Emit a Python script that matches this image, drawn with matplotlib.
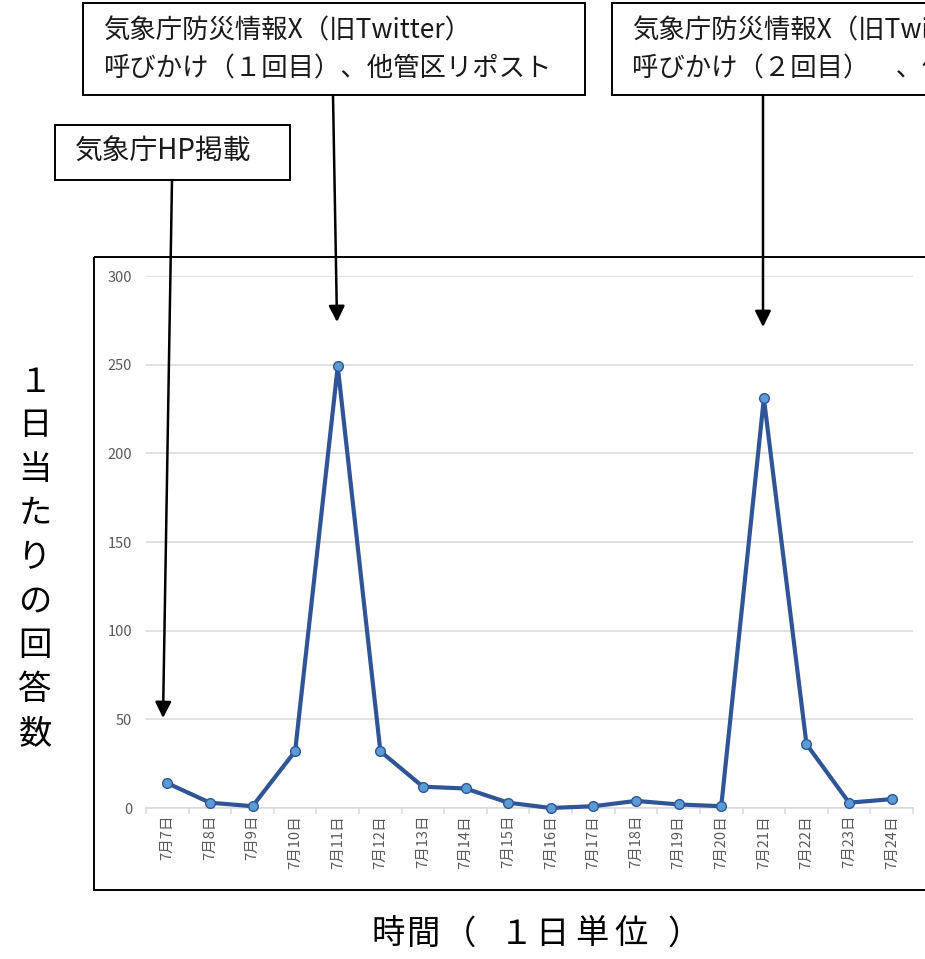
import matplotlib.pyplot as plt
from matplotlib.patches import Rectangle, FancyArrowPatch

plt.rcParams["font.family"] = ["Noto Sans CJK JP", "DejaVu Sans"]

# daily responses, 7/7 - 7/24
dates = ["7月7日", "7月8日", "7月9日", "7月10日", "7月11日", "7月12日",
         "7月13日", "7月14日", "7月15日", "7月16日", "7月17日", "7月18日",
         "7月19日", "7月20日", "7月21日", "7月22日", "7月23日", "7月24日"]
counts = [14, 3, 1, 32, 249, 32, 12, 11, 3, 0, 1, 4, 2, 1, 231, 36, 3, 5]
yticks = [0, 50, 100, 150, 200, 250, 300]

W, H = 925, 959
fig = plt.figure(figsize=(W / 100, H / 100), dpi=100)


def px(x0, y0, x1, y1):
    # pixel box (top-left origin) -> figure fraction rect
    return [x0 / W, 1 - y1 / H, (x1 - x0) / W, (y1 - y0) / H]


ax = fig.add_axes(px(146, 276, 913, 808))
x = list(range(len(dates)))
ax.plot(x, counts, color="#2F5597", linewidth=3, marker="o", markersize=7,
        markerfacecolor="#5B9BD5", markeredgecolor="#2F5597",
        markeredgewidth=1.0, zorder=3, clip_on=False)
ax.set_xlim(-0.5, len(dates) - 0.5)
ax.set_ylim(0, 300)
ax.set_yticks(yticks)
ax.set_xticks(x)
ax.set_xticklabels(dates, rotation=90, fontsize=10.5, color="#595959")
ax.tick_params(axis="x", length=0, pad=5)
ax.tick_params(axis="y", length=0, labelsize=10.5, labelcolor="#595959", pad=10)
ax.grid(axis="y", color="#D9D9D9", linewidth=1.1)
ax.set_axisbelow(True)
for side in ["top", "right", "left"]:
    ax.spines[side].set_visible(False)
ax.spines["bottom"].set_color("#D9D9D9")
ax.spines["bottom"].set_linewidth(1.1)
# category boundary ticks
for b in [i - 0.5 for i in range(len(dates) + 1)]:
    ax.plot([b, b], [0, -3], color="#D9D9D9", linewidth=1.1, clip_on=False)

# overlay in pixel coordinates for frame, callouts and axis titles
ov = fig.add_axes([0, 0, 1, 1], zorder=5)
ov.set_xlim(0, W)
ov.set_ylim(H, 0)
ov.axis("off")
ov.patch.set_alpha(0)

ov.add_patch(Rectangle((94, 257), 900, 633, fill=False, edgecolor="black",
                       linewidth=1.4))


def callout(x0, y0, x1, y1, lines, ys, fs=19):
    ov.add_patch(Rectangle((x0, y0), x1 - x0, y1 - y0, facecolor="white",
                           edgecolor="black", linewidth=1.4))
    for s, y in zip(lines, ys):
        ov.text(x0 + 20, y, s, fontsize=fs, ha="left", va="center",
                color="#1a1a1a")


def arrow(x0, y0, x1, y1):
    ov.add_patch(FancyArrowPatch((x0, y0), (x1, y1), arrowstyle="-|>",
                                 mutation_scale=24, linewidth=1.8,
                                 color="black", shrinkA=0, shrinkB=0))


callout(55, 125, 290, 180, ["気象庁HP掲載"], [152], fs=20)
callout(83, 3, 585, 95, ["気象庁防災情報X（旧Twitter）",
                         "呼びかけ（１回目）、他管区リポスト"], [31, 69])
callout(612, 3, 1120, 95, ["気象庁防災情報X（旧Twitter）",
                           "呼びかけ（２回目）　、他管区リポスト"], [31, 69])

arrow(172, 180, 163, 718)
arrow(333, 95, 337, 322)
arrow(763, 95, 763, 327)

ylabel = "１日当たりの回答数"
for i, ch in enumerate(ylabel):
    ov.text(35, 382 + 43.9 * i, ch, fontsize=24, ha="center", va="center")

xlabel = "時間（１日単位）"
xlabel_pos = [388, 424, 460, 516, 552, 592, 631, 684]
for ch, xp in zip(xlabel, xlabel_pos):
    ov.text(xp, 934, ch, fontsize=24, ha="center", va="center")

fig.savefig("out.png", dpi=100)
